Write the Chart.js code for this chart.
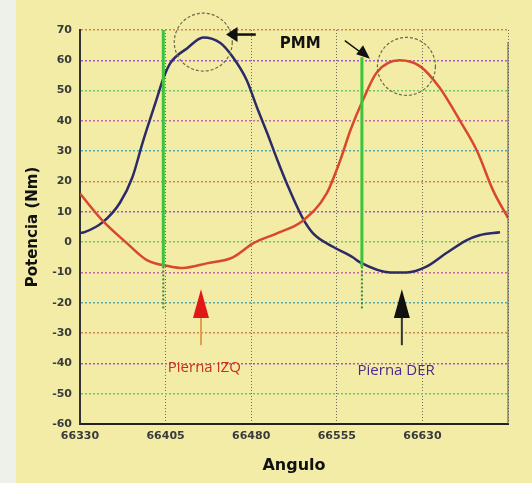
<!DOCTYPE html>
<html>
<head>
<meta charset="utf-8">
<script src="https://cdn.jsdelivr.net/npm/chart.js@4"></script>
<style>
  body { margin: 0; background: #f2eca6; }
  #wrap { width: 532px; height: 483px; }
</style>
</head>
<body>
<div id="wrap"><canvas id="chart" width="532" height="483"></canvas></div>
<script>
// Pierna DER (blue) - angle / power readings
const derAngles = [66330, 66334, 66350, 66365, 66376, 66385, 66397, 66403, 66409, 66424, 66438, 66453, 66464, 66476, 66485, 66494, 66503, 66511, 66525, 66534, 66552, 66569, 66575, 66602, 66616, 66634, 66651, 66669, 66680, 66698]
const derValues = [3, 3.3, 6.6, 13, 21.5, 33, 47, 54, 59, 64, 67.5, 65.7, 61, 53.5, 44.5, 36, 27, 19.5, 8, 3, -1.6, -5, -6.6, -10, -10, -8, -3.6, 0.7, 2.3, 3.3]

// Pierna IZQ (red)
const izqAngles = [66330, 66350, 66371, 66389, 66409, 66420, 66441, 66464, 66482, 66503, 66525, 66546, 66558, 66567, 66578, 66590, 66610, 66628, 66645, 66663, 66678, 66692, 66705]
const izqValues = [16, 7, -0.3, -6, -8, -8.5, -7, -5, -0.3, 3, 7, 16, 27, 37, 47, 56, 60, 58, 51, 40, 30, 17, 8]

// green PMM markers
const pmmAngles = [66403, 66577]
const pmmTop = [72, 61]
const pmmBottom = -22

const xTicks = [66330, 66405, 66480, 66555, 66630, 66705]
const gridColors = ['#c86aa8', '#6cc46c', '#a858c8', '#c88a48', '#58a8a8']

function toPoints(xs, ys) {
    return xs.map((x, i) => ({x: x, y: ys[i]}))
}

const greenSets = []
pmmAngles.forEach((a, i) => {
    greenSets.push({
        data: [{x: a, y: pmmTop[i]}, {x: a, y: -8}],
        borderColor: '#3cc43c', borderWidth: 3, pointRadius: 0
    })
    greenSets.push({
        data: [{x: a, y: -8}, {x: a, y: pmmBottom}],
        borderColor: '#3a8a3a', borderWidth: 2, borderDash: [2, 2], pointRadius: 0
    })
})

// background + notes
const paper = {
    id: 'paper',
    beforeDraw(chart) {
        const c = chart.ctx
        c.save()
        c.fillStyle = '#f2eca6'
        c.fillRect(0, 0, chart.width, chart.height)
        c.fillStyle = '#eef0ea'
        c.fillRect(0, 0, 16, chart.height)
        c.restore()
    },
    afterDatasetsDraw(chart) {
        const c = chart.ctx
        const xs = chart.scales.x, ys = chart.scales.y
        const px = v => xs.getPixelForValue(v)
        const py = v => ys.getPixelForValue(v)
        c.save()
        // right frame line
        c.strokeStyle = '#555'
        c.lineWidth = 1
        c.beginPath()
        c.moveTo(chart.chartArea.right, py(66))
        c.lineTo(chart.chartArea.right, chart.chartArea.bottom)
        c.stroke()

        // circles round the peaks
        c.setLineDash([3, 2])
        c.strokeStyle = '#6a6a4a'
        c.lineWidth = 1.2
        ;[[66438, 66], [66616, 58]].forEach(p => {
            c.beginPath()
            c.arc(px(p[0]), py(p[1]), 29, 0, Math.PI * 2)
            c.stroke()
        })
        c.setLineDash([])

        // PMM label and arrows
        c.fillStyle = '#111'
        c.font = 'bold 15px "DejaVu Sans", sans-serif'
        c.textAlign = 'center'
        c.textBaseline = 'middle'
        c.fillText('PMM', px(66523), py(65.5))
        c.strokeStyle = '#111'
        c.lineWidth = 2.5
        c.beginPath()
        c.moveTo(px(66484), py(68.5)); c.lineTo(px(66465), py(68.5))
        c.stroke()
        c.beginPath()
        c.moveTo(px(66458), py(68.5)); c.lineTo(px(66468), py(71)); c.lineTo(px(66468), py(66)); c.closePath()
        c.fill()
        c.lineWidth = 1.5
        c.beginPath()
        c.moveTo(px(66562), py(66.5)); c.lineTo(px(66580), py(61.5))
        c.stroke()
        c.beginPath()
        c.moveTo(px(66584), py(60.5)); c.lineTo(px(66572), py(62)); c.lineTo(px(66578), py(65)); c.closePath()
        c.fill()

        // leg arrows
        const arrow = (a, col, shaft) => {
            c.strokeStyle = shaft
            c.lineWidth = 2
            c.beginPath()
            c.moveTo(px(a), py(-24)); c.lineTo(px(a), py(-34))
            c.stroke()
            c.fillStyle = col
            c.beginPath()
            c.moveTo(px(a), py(-15.5)); c.lineTo(px(a) - 8, py(-25)); c.lineTo(px(a) + 8, py(-25)); c.closePath()
            c.fill()
        }
        arrow(66436, '#e01818', '#e0a050')
        arrow(66612, '#111', '#333')

        c.font = '15px "Open Sans", sans-serif'
        c.fillStyle = '#c8301c'
        c.fillText('Pierna IZQ', px(66439), py(-41.5))
        c.fillStyle = '#4a2a8a'
        c.fillText('Pierna DER', px(66607), py(-42.5))
        c.restore()
    }
}

new Chart('chart', {
    type: 'line',
    data: {
        datasets: [
            ...greenSets,
            {
                label: 'Pierna IZQ',
                data: toPoints(izqAngles, izqValues),
                borderColor: '#d8482a', borderWidth: 2.5, pointRadius: 0,
                cubicInterpolationMode: 'monotone'
            },
            {
                label: 'Pierna DER',
                data: toPoints(derAngles, derValues),
                borderColor: '#2c2a68', borderWidth: 2.5, pointRadius: 0,
                cubicInterpolationMode: 'monotone'
            }
        ]
    },
    options: {
        responsive: false,
        animation: false,
        layout: {padding: {left: 20, right: 24, top: 30, bottom: 4}},
        plugins: {legend: {display: false}, tooltip: {enabled: false}},
        scales: {
            x: {
                type: 'linear',
                min: 66330, max: 66705,
                afterBuildTicks: s => { s.ticks = xTicks.map(v => ({value: v})) },
                afterFit: s => { s.height = 55 },
                grid: {color: '#6a6a5a', lineWidth: 1, drawTicks: false},
                border: {color: '#222', width: 2, dash: [1, 2]},
                ticks: {
                    padding: 6,
                    color: '#3a3a3a',
                    font: {size: 11, family: 'DejaVu Sans', weight: 'bold'},
                    callback: v => v === 66705 ? '' : String(v)
                },
                title: {
                    display: true, text: 'Angulo', color: '#111',
                    font: {size: 16, weight: 'bold', family: 'DejaVu Sans'},
                    padding: {top: 8}
                }
            },
            y: {
                min: -60, max: 70,
                afterFit: s => { s.width = 60 },
                ticks: {
                    stepSize: 10,
                    color: '#3a3a3a',
                    font: {size: 11, family: 'DejaVu Sans', weight: 'bold'},
                    padding: 8
                },
                grid: {
                    drawTicks: false,
                    lineWidth: 1.5,
                    color: ctx => ctx.index === 0 ? 'rgba(0,0,0,0)' : gridColors[ctx.index % gridColors.length]
                },
                border: {color: '#333', width: 2, dash: [2, 2]},
                title: {
                    display: true, text: 'Potencia (Nm)', color: '#111',
                    font: {size: 15, weight: 'bold', family: 'DejaVu Sans'},
                    padding: {bottom: 2}
                }
            }
        }
    },
    plugins: [paper]
})
</script>
</body>
</html>
